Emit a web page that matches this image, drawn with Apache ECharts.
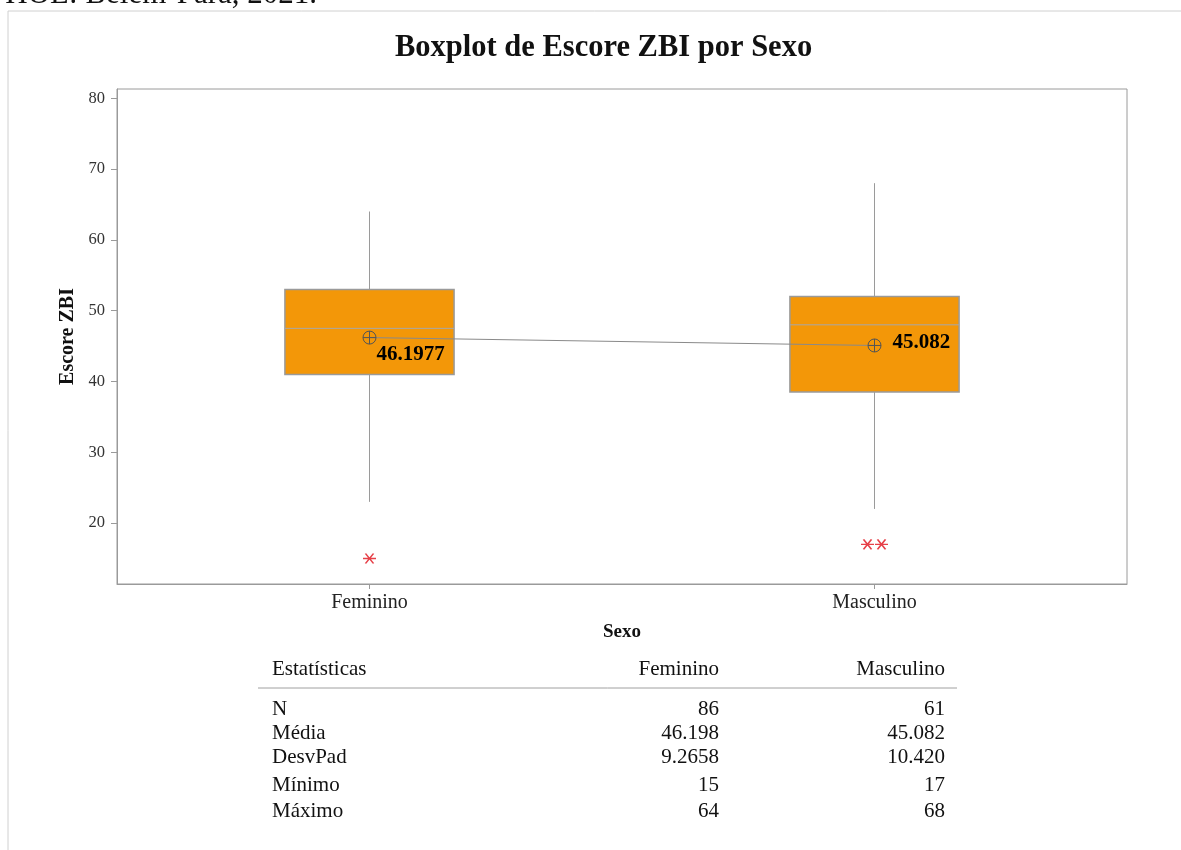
<!DOCTYPE html>
<html>
<head>
<meta charset="utf-8">
<script src="https://cdn.jsdelivr.net/npm/echarts@6/dist/echarts.min.js"></script>
<style>
  html, body { margin: 0; padding: 0; background: #fff; }
  #chart { width: 1181px; height: 850px; }
</style>
</head>
<body>
<div id="chart"></div>
<script>
const categories = ['Feminino', 'Masculino'];
// [min whisker, Q1, median, Q3, max whisker]
const boxValues = [
  [23, 41, 47.5, 53, 64],
  [22, 38.5, 48, 52, 68],
];
const means = [46.1977, 45.082];
const meanLabels = ['46.1977', '45.082'];
// outliers: [category index, value, horizontal jitter in px]
const outliers = [
  [0, 15, 0],
  [1, 17, -7],
  [1, 17, 7],
];
const yTicks = [20, 30, 40, 50, 60, 70, 80];

const statNames = ['N', 'Média', 'DesvPad', 'Mínimo', 'Máximo'];
const statFem = ['86', '46.198', '9.2658', '15', '64'];
const statMasc = ['61', '45.082', '10.420', '17', '68'];

const SERIF = "'Liberation Serif', 'Times New Roman', serif";
const BOX_FILL = '#f39708';
const GREY = '#9a9a9a';

const chart = echarts.init(document.getElementById('chart'), null, { renderer: 'canvas' });

function renderBox(params, api) {
  const cx = api.coord([api.value(0), 0])[0];
  const halfW = api.size([1, 0])[0] * 0.335 / 2;
  const yMin = api.coord([0, api.value(1)])[1];
  const yQ1 = api.coord([0, api.value(2)])[1];
  const yMed = api.coord([0, api.value(3)])[1];
  const yQ3 = api.coord([0, api.value(4)])[1];
  const yMax = api.coord([0, api.value(5)])[1];
  const lineStyle = { stroke: GREY, lineWidth: 1 };
  return {
    type: 'group',
    children: [
      { type: 'line', shape: { x1: cx, y1: yMax, x2: cx, y2: yQ3 }, style: lineStyle },
      { type: 'line', shape: { x1: cx, y1: yQ1, x2: cx, y2: yMin }, style: lineStyle },
      {
        type: 'rect',
        shape: { x: cx - halfW, y: yQ3, width: halfW * 2, height: yQ1 - yQ3 },
        style: { fill: BOX_FILL, stroke: GREY, lineWidth: 1.5 },
      },
      { type: 'line', shape: { x1: cx - halfW, y1: yMed, x2: cx + halfW, y2: yMed }, style: { stroke: '#a8a8a8', lineWidth: 1 } },
    ],
  };
}

const TABLE_FONT = `21px ${SERIF}`;
const tableGraphics = [];
const headerY = 669;
const rowY = [709, 733, 757, 785, 811];
tableGraphics.push(
  { type: 'text', x: 272, y: headerY, style: { text: 'Estatísticas', font: TABLE_FONT, fill: '#111', align: 'left', verticalAlign: 'middle' } },
  { type: 'text', x: 719, y: headerY, style: { text: categories[0], font: TABLE_FONT, fill: '#111', align: 'right', verticalAlign: 'middle' } },
  { type: 'text', x: 945, y: headerY, style: { text: categories[1], font: TABLE_FONT, fill: '#111', align: 'right', verticalAlign: 'middle' } },
  { type: 'line', shape: { x1: 258, y1: 688, x2: 957, y2: 688 }, style: { stroke: '#a0a0a0', lineWidth: 1 } },
);
statNames.forEach((name, i) => {
  tableGraphics.push(
    { type: 'text', x: 272, y: rowY[i], style: { text: name, font: TABLE_FONT, fill: '#111', align: 'left', verticalAlign: 'middle' } },
    { type: 'text', x: 719, y: rowY[i], style: { text: statFem[i], font: TABLE_FONT, fill: '#111', align: 'right', verticalAlign: 'middle' } },
    { type: 'text', x: 945, y: rowY[i], style: { text: statMasc[i], font: TABLE_FONT, fill: '#111', align: 'right', verticalAlign: 'middle' } },
  );
});

const option = {
  animation: false,
  backgroundColor: '#fff',
  title: {
    text: 'Boxplot de Escore ZBI por Sexo',
    left: 390,
    top: 28,
    textStyle: { fontFamily: SERIF, fontSize: 30.5, fontWeight: 'bold', color: '#111' },
  },
  grid: {
    left: 117,
    top: 89,
    right: 54,
    bottom: 266,
    show: true,
    borderColor: GREY,
    borderWidth: 1,
  },
  xAxis: {
    type: 'category',
    data: categories,
    name: 'Sexo',
    nameLocation: 'middle',
    nameGap: 39,
    nameTextStyle: { fontFamily: SERIF, fontSize: 19, fontWeight: 'bold', color: '#111' },
    axisLine: { show: true, lineStyle: { color: GREY } },
    axisTick: { show: true, alignWithLabel: true, length: 5, lineStyle: { color: GREY } },
    axisLabel: { fontFamily: SERIF, fontSize: 20, color: '#222', margin: 9 },
    splitLine: { show: false },
  },
  yAxis: {
    type: 'value',
    min: 11.4,
    max: 81.3,
    name: 'Escore ZBI',
    nameLocation: 'middle',
    nameRotate: 90,
    nameGap: 37,
    nameTextStyle: { fontFamily: SERIF, fontSize: 20, fontWeight: 'bold', color: '#111' },
    axisLine: { show: true, lineStyle: { color: GREY } },
    axisTick: { show: true, length: 6, customValues: yTicks, lineStyle: { color: GREY } },
    axisLabel: { fontFamily: SERIF, fontSize: 16.5, color: '#333', margin: 12, customValues: yTicks },
    splitLine: { show: false },
  },
  series: [
    {
      type: 'custom',
      renderItem: renderBox,
      encode: { x: 0, y: [1, 2, 3, 4, 5] },
      data: boxValues.map((b, i) => [i, ...b]),
      silent: true,
      z: 2,
    },
    {
      type: 'line',
      data: means.map((m, i) => ({
        value: [i, m],
        label: {
          show: true,
          formatter: meanLabels[i],
          position: 'right',
          distance: i === 0 ? 0 : 11,
          offset: i === 0 ? [0, 17] : [0, -3],
          fontFamily: SERIF,
          fontSize: 21,
          fontWeight: 'bold',
          color: '#000',
        },
      })),
      symbol: 'path://M0,6 A6,6 0 1 1 12,6 A6,6 0 1 1 0,6 Z M6,0 L6,12 M0,6 L12,6',
      symbolSize: 13,
      showSymbol: true,
      lineStyle: { color: '#8a8a8a', width: 1 },
      itemStyle: { color: 'transparent', borderColor: '#555', borderWidth: 1 },
      z: 4,
    },
    {
      type: 'scatter',
      data: outliers.map((o) => ({ value: [o[0], o[1]], symbolOffset: [o[2], 0] })),
      symbol: 'path://M0,5 L13,5 M2.5,0 L10.5,10 M10.5,0 L2.5,10',
      symbolSize: [13, 10],
      itemStyle: { color: 'transparent', borderColor: '#e0101a', borderWidth: 1.5 },
      z: 4,
    },
  ],
  graphic: [
    { type: 'line', shape: { x1: 8, y1: 11, x2: 1181, y2: 11 }, style: { stroke: '#d0d0d0', lineWidth: 1 } },
    { type: 'line', shape: { x1: 8, y1: 11, x2: 8, y2: 850 }, style: { stroke: '#d0d0d0', lineWidth: 1 } },
    { type: 'text', x: 317, y: 10, style: { text: 'HOL: Belém-Pará, 2021.', font: `31px ${SERIF}`, fill: '#111', align: 'right', verticalAlign: 'bottom' } },
    ...tableGraphics,
  ],
};

chart.setOption(option);
</script>
</body>
</html>
